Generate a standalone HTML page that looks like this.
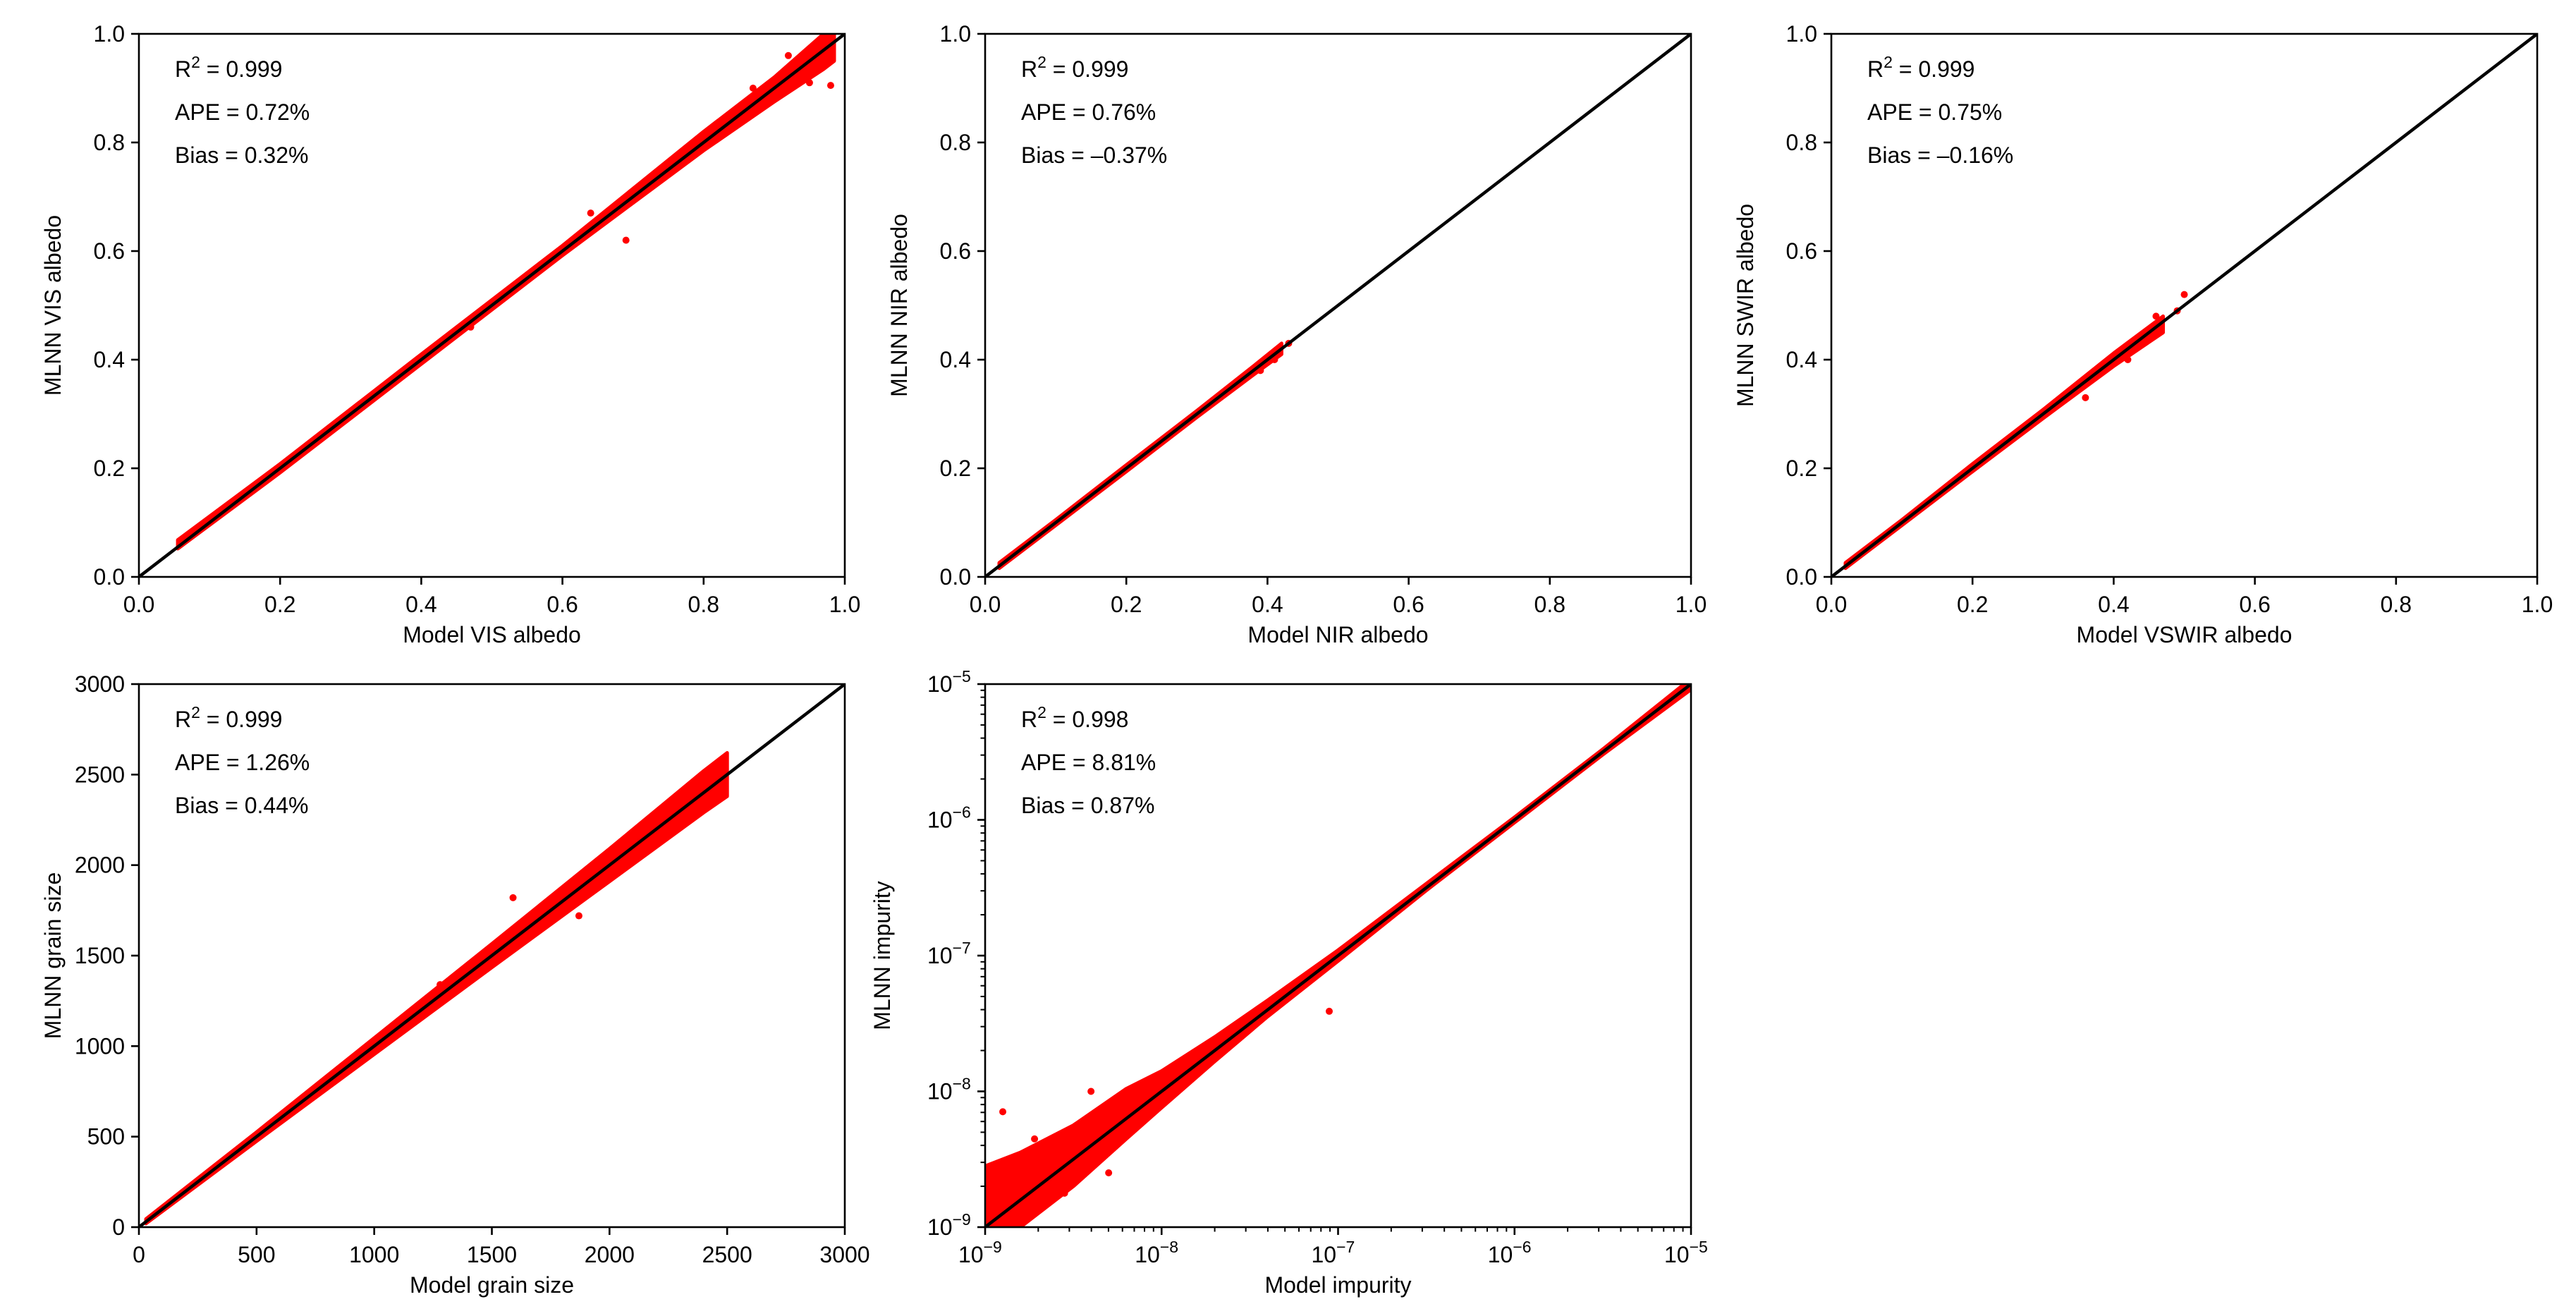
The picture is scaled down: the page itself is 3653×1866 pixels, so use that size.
<!DOCTYPE html>
<html><head><meta charset="utf-8"><style>
html,body{margin:0;padding:0;background:#fff}
svg{display:block}
text{font-family:"Liberation Sans","DejaVu Sans",sans-serif;fill:#000}
</style></head><body>
<svg id="fig" width="3653" height="1866" viewBox="0 0 3653 1866" xmlns="http://www.w3.org/2000/svg"></svg>
<script>
// ---- Data ----
const visX = [0.055,0.2,0.4,0.6,0.8,0.9,0.97,0.985];
const visLo = [0.052,0.192,0.392,0.592,0.785,0.875,0.935,0.95];
const visHi = [0.068,0.208,0.41,0.61,0.82,0.92,1.0,1.0];
const visOutX = [0.69,0.98,0.64,0.47,0.87,0.95,0.92];
const visOutY = [0.62,0.905,0.67,0.46,0.9,0.91,0.96];

const nirX = [0.02,0.1,0.2,0.3,0.38,0.42];
const nirLo = [0.016,0.095,0.194,0.294,0.372,0.41];
const nirHi = [0.026,0.105,0.206,0.306,0.388,0.43];
const nirOutX = [0.41,0.43,0.39];
const nirOutY = [0.40,0.43,0.38];

const swirX = [0.02,0.1,0.2,0.3,0.4,0.47];
const swirLo = [0.016,0.095,0.194,0.292,0.388,0.45];
const swirHi = [0.026,0.105,0.208,0.308,0.412,0.48];
const swirOutX = [0.5,0.49,0.36,0.42,0.46];
const swirOutY = [0.52,0.49,0.33,0.40,0.48];

const grainX = [30,500,1000,1500,2000,2400,2500];
const grainLo = [20,475,955,1435,1910,2290,2380];
const grainHi = [45,525,1045,1565,2090,2520,2620];
const grainOutX = [1590,1870,1280];
const grainOutY = [1820,1720,1340];

const impXexp = [-9,-8.8,-8.5,-8.2,-8,-7.7,-7.4,-7,-6.5,-6,-5.5,-5];
const impLoExp = [-9.1,-9.0,-8.7,-8.35,-8.12,-7.78,-7.45,-7.04,-6.52,-6.02,-5.52,-5.04];
const impHiExp = [-8.55,-8.45,-8.25,-7.98,-7.85,-7.6,-7.33,-6.96,-6.47,-5.98,-5.48,-4.96];
const impOutXexp = [-8.9,-7.05,-7.18,-8.4,-8.55,-8.72,-8.3,-8.05];
const impOutYexp = [-8.15,-7.41,-7.19,-8.0,-8.75,-8.35,-8.6,-8.15];

const albTicks = ["0.0","0.2","0.4","0.6","0.8","1.0"];
const grainTicks = ["0","500","1000","1500","2000","2500","3000"];
const logTicks = ["−9","−8","−7","−6","−5"];

const statsVIS = ["0.999","0.72%","0.32%"];
const statsNIR = ["0.999","0.76%","–0.37%"];
const statsSWIR = ["0.999","0.75%","–0.16%"];
const statsGrain = ["0.999","1.26%","0.44%"];
const statsImp = ["0.998","8.81%","0.87%"];

// ---- Drawing ----
const NS = "http://www.w3.org/2000/svg";
const svg = document.getElementById('fig');
const W = 1001, H = 770;
function mk(tag, attrs, parent) {
  const e = document.createElementNS(NS, tag);
  for (const k in attrs) e.setAttribute(k, attrs[k]);
  (parent || svg).appendChild(e);
  return e;
}
let clipId = 0;
function panel(opt) {
  const g = mk('g', {});
  
  
  const L = opt.left, T = opt.top;
  const sx = v => L + (v - opt.min) / (opt.max - opt.min) * W;
  const sy = v => T + H - (v - opt.min) / (opt.max - opt.min) * H;
  const cid = 'clip' + (clipId++);
  const cp = mk('clipPath', {id: cid}, g);
  mk('rect', {x: L, y: T, width: W, height: H}, cp);
  const plot = mk('g', {'clip-path': 'url(#' + cid + ')'}, g);
  let d = '';
  opt.bx.forEach((x, i) => { d += (i ? 'L' : 'M') + sx(x).toFixed(1) + ',' + sy(opt.bhi[i]).toFixed(1); });
  for (let i = opt.bx.length - 1; i >= 0; i--) d += 'L' + sx(opt.bx[i]).toFixed(1) + ',' + sy(opt.blo[i]).toFixed(1);
  d += 'Z';
  const band = mk('path', {d: d, fill: '#ff0000', stroke: '#ff0000', 'stroke-width': 5, 'stroke-linejoin': 'round'}, plot);
  
  
  opt.ox.forEach((x, i) => {
    const c = mk('circle', {cx: sx(x), cy: sy(opt.oy[i]), r: 5, fill: '#ff0000'}, plot);
    
    
  });
  const ln = mk('line', {x1: sx(opt.min), y1: sy(opt.min), x2: sx(opt.max), y2: sy(opt.max), stroke: '#000', 'stroke-width': 4.5}, plot);
  
  
  const fr = mk('rect', {x: L, y: T, width: W, height: H, fill: 'none', stroke: '#000', 'stroke-width': 2.6}, g);
  
  
  opt.ticks.forEach((lab, i) => {
    const v = opt.tickVals[i];
    mk('line', {x1: sx(v), y1: T + H, x2: sx(v), y2: T + H + 11, stroke: '#000', 'stroke-width': 2.6}, g);
    mk('line', {x1: L, y1: sy(v), x2: L - 11, y2: sy(v), stroke: '#000', 'stroke-width': 2.6}, g);
    const tx = mk('text', {x: sx(v), y: T + H + 50, 'font-size': 32, 'text-anchor': 'middle'}, g);
    
    
    const ty = mk('text', {x: L - 20, y: sy(v) + 11, 'font-size': 32, 'text-anchor': 'end'}, g);
    
    
    if (opt.log) {
      [tx, ty].forEach(t => {
        t.appendChild(document.createTextNode('10'));
        const s = mk('tspan', {'font-size': 23, dy: -14}, t);
        s.textContent = lab;
      });
      tx.setAttribute('x', sx(v) - 38); tx.setAttribute('text-anchor', 'start');
      ty.setAttribute('x', L - 82); ty.setAttribute('text-anchor', 'start');
    } else {
      tx.textContent = lab; ty.textContent = lab;
    }
  });
  if (opt.log) {
    for (let e = opt.min; e < opt.max; e++) for (let m = 2; m <= 9; m++) {
      const v = e + Math.log10(m);
      mk('line', {x1: sx(v), y1: T + H, x2: sx(v), y2: T + H + 6.5, stroke: '#000', 'stroke-width': 2}, g);
      mk('line', {x1: L, y1: sy(v), x2: L - 6.5, y2: sy(v), stroke: '#000', 'stroke-width': 2}, g);
    }
  }
  const xl = mk('text', {x: L + W / 2, y: T + H + 93, 'font-size': 32, 'text-anchor': 'middle'}, g);
  xl.textContent = opt.xlabel;
  
  
  const yx = L - (opt.log ? 135 : 111);
  const yl = mk('text', {x: yx, y: T + H / 2, 'font-size': 32, 'text-anchor': 'middle', transform: 'rotate(-90 ' + yx + ' ' + (T + H / 2) + ')'}, g);
  yl.textContent = opt.ylabel;
  
  
  const ax = L + 51;
  const t1 = mk('text', {x: ax, y: T + 61, 'font-size': 32}, g);
  t1.appendChild(document.createTextNode('R'));
  const sp = mk('tspan', {'font-size': 23, dy: -13}, t1); sp.textContent = '2';
  const sp2 = mk('tspan', {dy: 13}, t1); sp2.textContent = ' = ' + opt.stats[0];
   
  const t2 = mk('text', {x: ax, y: T + 122, 'font-size': 32}, g);
  t2.textContent = 'APE = ' + opt.stats[1];
   
  const t3 = mk('text', {x: ax, y: T + 183, 'font-size': 32}, g);
  t3.textContent = 'Bias = ' + opt.stats[2];
   
}
const albVals = albTicks.map(Number);
const cols = [197, 1397, 2597], rows = [48, 970];
panel({name: 'vis-albedo-panel', left: cols[0], top: rows[0], min: 0, max: 1, ticks: albTicks, tickVals: albVals,
  bx: visX, blo: visLo, bhi: visHi, ox: visOutX, oy: visOutY, xlabel: 'Model VIS albedo', ylabel: 'MLNN VIS albedo', stats: statsVIS});
panel({name: 'nir-albedo-panel', left: cols[1], top: rows[0], min: 0, max: 1, ticks: albTicks, tickVals: albVals,
  bx: nirX, blo: nirLo, bhi: nirHi, ox: nirOutX, oy: nirOutY, xlabel: 'Model NIR albedo', ylabel: 'MLNN NIR albedo', stats: statsNIR});
panel({name: 'swir-albedo-panel', left: cols[2], top: rows[0], min: 0, max: 1, ticks: albTicks, tickVals: albVals,
  bx: swirX, blo: swirLo, bhi: swirHi, ox: swirOutX, oy: swirOutY, xlabel: 'Model VSWIR albedo', ylabel: 'MLNN SWIR albedo', stats: statsSWIR});
panel({name: 'grain-size-panel', left: cols[0], top: rows[1], min: 0, max: 3000, ticks: grainTicks, tickVals: grainTicks.map(Number),
  bx: grainX, blo: grainLo, bhi: grainHi, ox: grainOutX, oy: grainOutY, xlabel: 'Model grain size', ylabel: 'MLNN grain size', stats: statsGrain});
panel({name: 'impurity-panel', left: cols[1], top: rows[1], min: -9, max: -5, log: true, ticks: logTicks, tickVals: [-9,-8,-7,-6,-5],
  bx: impXexp, blo: impLoExp, bhi: impHiExp, ox: impOutXexp, oy: impOutYexp, xlabel: 'Model impurity', ylabel: 'MLNN impurity', stats: statsImp});
</script>
</body></html>
